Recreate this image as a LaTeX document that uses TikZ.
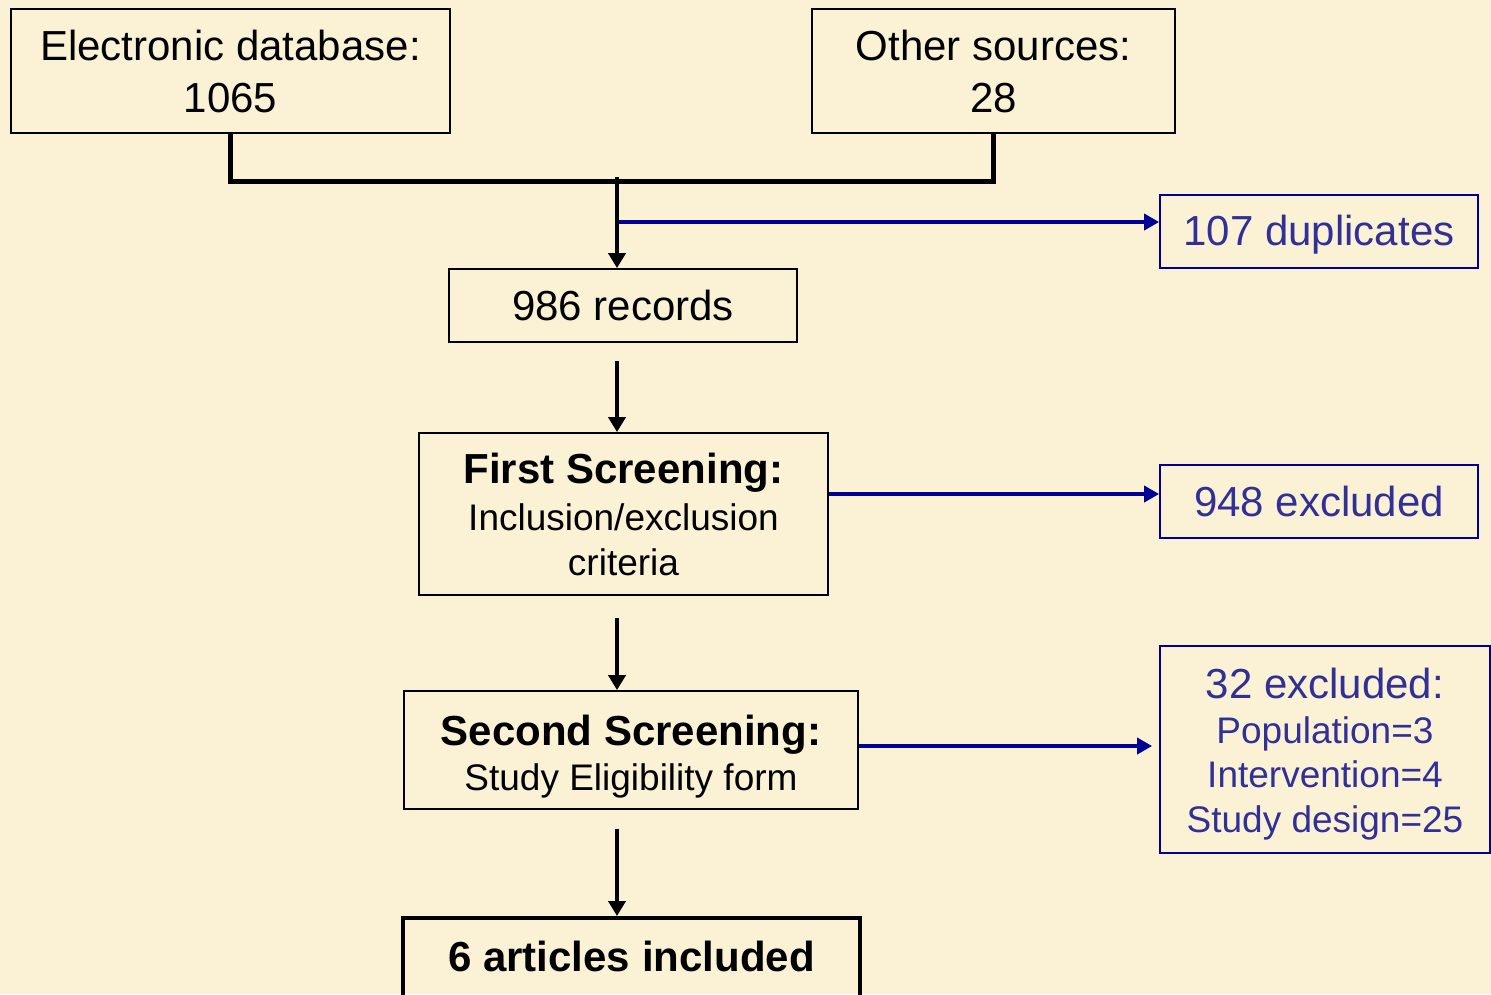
\documentclass[tikz,border=0pt]{standalone}
\usepackage{fontspec}
\setmainfont{Liberation Sans}
\usetikzlibrary{arrows.meta}
\definecolor{bg}{RGB}{251,242,214}
\definecolor{navy}{RGB}{0,0,150}
\definecolor{bluetext}{RGB}{48,48,150}
\newcommand{\szA}{\fontsize{42}{52}\selectfont}
\newcommand{\szB}{\fontsize{37}{45}\selectfont}
\begin{document}
\begin{tikzpicture}[x=1pt,y=-1pt,
  box/.style={draw=black, line width=1.8pt, inner sep=0pt, align=center, text=black},
  bbox/.style={draw=navy, line width=1.8pt, inner sep=0pt, align=center, text=bluetext},
  link/.style={line width=5pt, line join=miter},
  arr/.style={line width=4.5pt, -{Triangle[width=17pt,length=15pt]}},
  barr/.style={draw=navy, line width=4.5pt, -{Triangle[width=16pt,length=15pt]}}]
\fill[bg] (0,0) rectangle (1491,994);
\useasboundingbox (0,0) rectangle (1491,994);

\node[box, font=\szA, minimum width=439pt, minimum height=124pt] (elec) at (230.5,71) {Electronic database:\\1065};
\node[box, font=\szA, minimum width=363pt, minimum height=124pt] (other) at (993.5,71) {Other sources:\\28};
\node[bbox, font=\szA, minimum width=318pt, minimum height=73pt] (dup) at (1319,231.5) {\rule{0pt}{37pt}107 duplicates};
\node[box, font=\szA, minimum width=348pt, minimum height=73pt] (rec) at (623,305.5) {986 records};
\node[box, font=\szB, minimum width=409pt, minimum height=162pt] (first) at (623.5,514) {{\szA\bfseries First Screening:}\\[2pt]Inclusion/exclusion\\criteria};
\node[bbox, font=\szA, minimum width=318pt, minimum height=73pt] (excl1) at (1319,501.5) {948 excluded};
\node[box, font=\szB, minimum width=454pt, minimum height=118pt] (second) at (631,750) {\rule{0pt}{43pt}{\szA\bfseries Second Screening:}\\Study Eligibility form};
\node[bbox, font=\szB, minimum width=330pt, minimum height=207pt] (excl2) at (1325,749.5) {\rule{0pt}{40pt}{\szA 32 excluded:}\\Population=3\\[-1pt]Intervention=4\\Study design=25};
\node[box, line width=4pt, font=\szA\bfseries, minimum width=457pt, minimum height=84pt] (incl) at (631.5,960) {6 articles included\rule[-8pt]{0pt}{8pt}};

\coordinate (j) at (617,181);
\coordinate (d) at (617,222);
\draw[link] (elec.south) |- (j) -| (other.south);
\draw[arr] ([yshift=4pt]j) -- (j |- rec.north);
\draw[barr] ([xshift=2pt]d) -- (d -| dup.west);
\draw[arr] ([yshift=-18pt]rec.south -| j) -- (j |- first.north);
\draw[barr] ([yshift=20pt]first.east) -- ([yshift=20pt]first.east -| excl1.west);
\draw[arr] ([yshift=-22pt]first.south -| j) -- (j |- second.north);
\draw[barr] ([yshift=4pt]second.east) -- ([yshift=4pt,xshift=-7pt]second.east -| excl2.west);
\draw[arr] ([yshift=-19pt]second.south -| j) -- (j |- incl.north);
\end{tikzpicture}
\end{document}
